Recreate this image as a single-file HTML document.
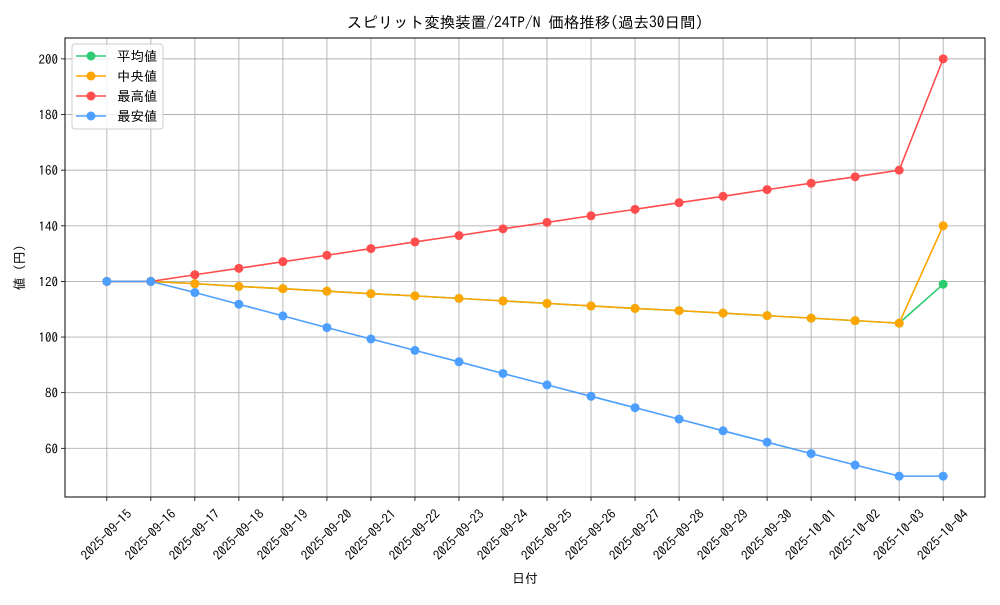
<!DOCTYPE html>
<html><head><meta charset="utf-8"><style>
body{margin:0;background:#fff;}
svg text{font-family:"IPAGothic","Noto Sans CJK JP",sans-serif;fill:#000;}
</style></head><body>
<svg id="chart" width="1000" height="600" xmlns="http://www.w3.org/2000/svg"></svg>
<script>
const dates=["2025-09-15","2025-09-16","2025-09-17","2025-09-18","2025-09-19","2025-09-20","2025-09-21","2025-09-22","2025-09-23","2025-09-24","2025-09-25","2025-09-26","2025-09-27","2025-09-28","2025-09-29","2025-09-30","2025-10-01","2025-10-02","2025-10-03","2025-10-04"];
const avgVals=[120,120,119.2,118.2,117.4,116.5,115.6,114.8,113.9,113.0,112.1,111.2,110.3,109.5,108.6,107.7,106.8,105.9,105,119];
const medVals=[120,120,119.2,118.2,117.4,116.5,115.6,114.8,113.9,113.0,112.1,111.2,110.3,109.5,108.6,107.7,106.8,105.9,105,140];
const maxVals=[120,120,122.4,124.7,127.1,129.4,131.8,134.2,136.5,138.9,141.2,143.6,145.9,148.3,150.6,153,155.3,157.6,160,200];
const minVals=[120,120,116,111.8,107.6,103.4,99.3,95.2,91.1,86.9,82.8,78.7,74.6,70.5,66.3,62.2,58.1,54,50,50];
const yTicks=[60,80,100,120,140,160,180,200];
const seriesNames=["平均値","中央値","最高値","最安値"];
const seriesColors=["#2ecc71","#ffa500","#ff4d4d","#4d9fff"];

const NS="http://www.w3.org/2000/svg";
const svg=document.getElementById('chart');
const L=65,R=985,T=38,B=497;
const x0=-0.95,x1=dates.length-1+0.95,y0=42.5,y1=207.5;
const X=i=>L+(i-x0)/(x1-x0)*(R-L);
const Y=v=>B-(v-y0)/(y1-y0)*(B-T);
function mk(tag,attrs,parent){const e=document.createElementNS(NS,tag);for(const k in attrs)e.setAttribute(k,attrs[k]);(parent||svg).appendChild(e);return e;}

const grid=mk('g',{});


dates.forEach((d,i)=>{
  mk('line',{x1:X(i),x2:X(i),y1:T,y2:B,stroke:'#b0b0b0','stroke-width':0.9},grid);
  mk('line',{x1:X(i),x2:X(i),y1:B,y2:B+4,stroke:'#000','stroke-width':0.8},grid);
  const cx=X(i), cy=535;
  const t=mk('text',{x:cx,y:cy+4,'font-size':13,'text-anchor':'middle',transform:`rotate(-45 ${cx} ${cy})`});
  t.textContent=d;
  
  
});
yTicks.forEach(v=>{
  mk('line',{x1:L,x2:R,y1:Y(v),y2:Y(v),stroke:'#b0b0b0','stroke-width':0.9},grid);
  mk('line',{x1:L-4,x2:L,y1:Y(v),y2:Y(v),stroke:'#000','stroke-width':0.8},grid);
  const t=mk('text',{x:L-7,y:Y(v)+5,'font-size':13,'text-anchor':'end'});
  t.textContent=v;
  
  
});

const allSeries=[avgVals,medVals,maxVals,minVals];
allSeries.forEach((vals,s)=>{
  const g=mk('g',{});
  
  
  mk('polyline',{points:vals.map((v,i)=>X(i)+','+Y(v)).join(' '),fill:'none',stroke:seriesColors[s],'stroke-width':1.6},g);
  vals.forEach((v,i)=>{
    const c=mk('circle',{cx:X(i),cy:Y(v),r:4.5,fill:seriesColors[s]},g);
    
    
  });
});

const frame=mk('rect',{x:L,y:T,width:R-L,height:B-T,fill:'none',stroke:'#000','stroke-width':1});



const title=mk('text',{x:(L+R)/2,y:28,'font-size':15.5,'text-anchor':'middle'});
title.textContent="スピリット変換装置/24TP/N 価格推移(過去30日間)";


const xt=mk('text',{x:(L+R)/2,y:583,'font-size':13,'text-anchor':'middle'});
xt.textContent="日付";


const yt=mk('text',{x:24,y:(T+B)/2,'font-size':13,'text-anchor':'middle',transform:`rotate(-90 24 ${(T+B)/2})`});
yt.textContent="値 (円)";



const leg=mk('g',{});


mk('rect',{x:72,y:44,width:91,height:85,rx:3,fill:'#fff','fill-opacity':0.8,stroke:'#ccc'},leg);
seriesNames.forEach((n,s)=>{
  const yy=56+s*20;
  const e=mk('g',{},leg);
  
  
  mk('line',{x1:76,x2:106,y1:yy,y2:yy,stroke:seriesColors[s],'stroke-width':1.6},e);
  mk('circle',{cx:91,cy:yy,r:4.5,fill:seriesColors[s]},e);
  const t=mk('text',{x:117,y:yy+5,'font-size':13.5},e);t.textContent=n;
});
</script>
</body></html>
